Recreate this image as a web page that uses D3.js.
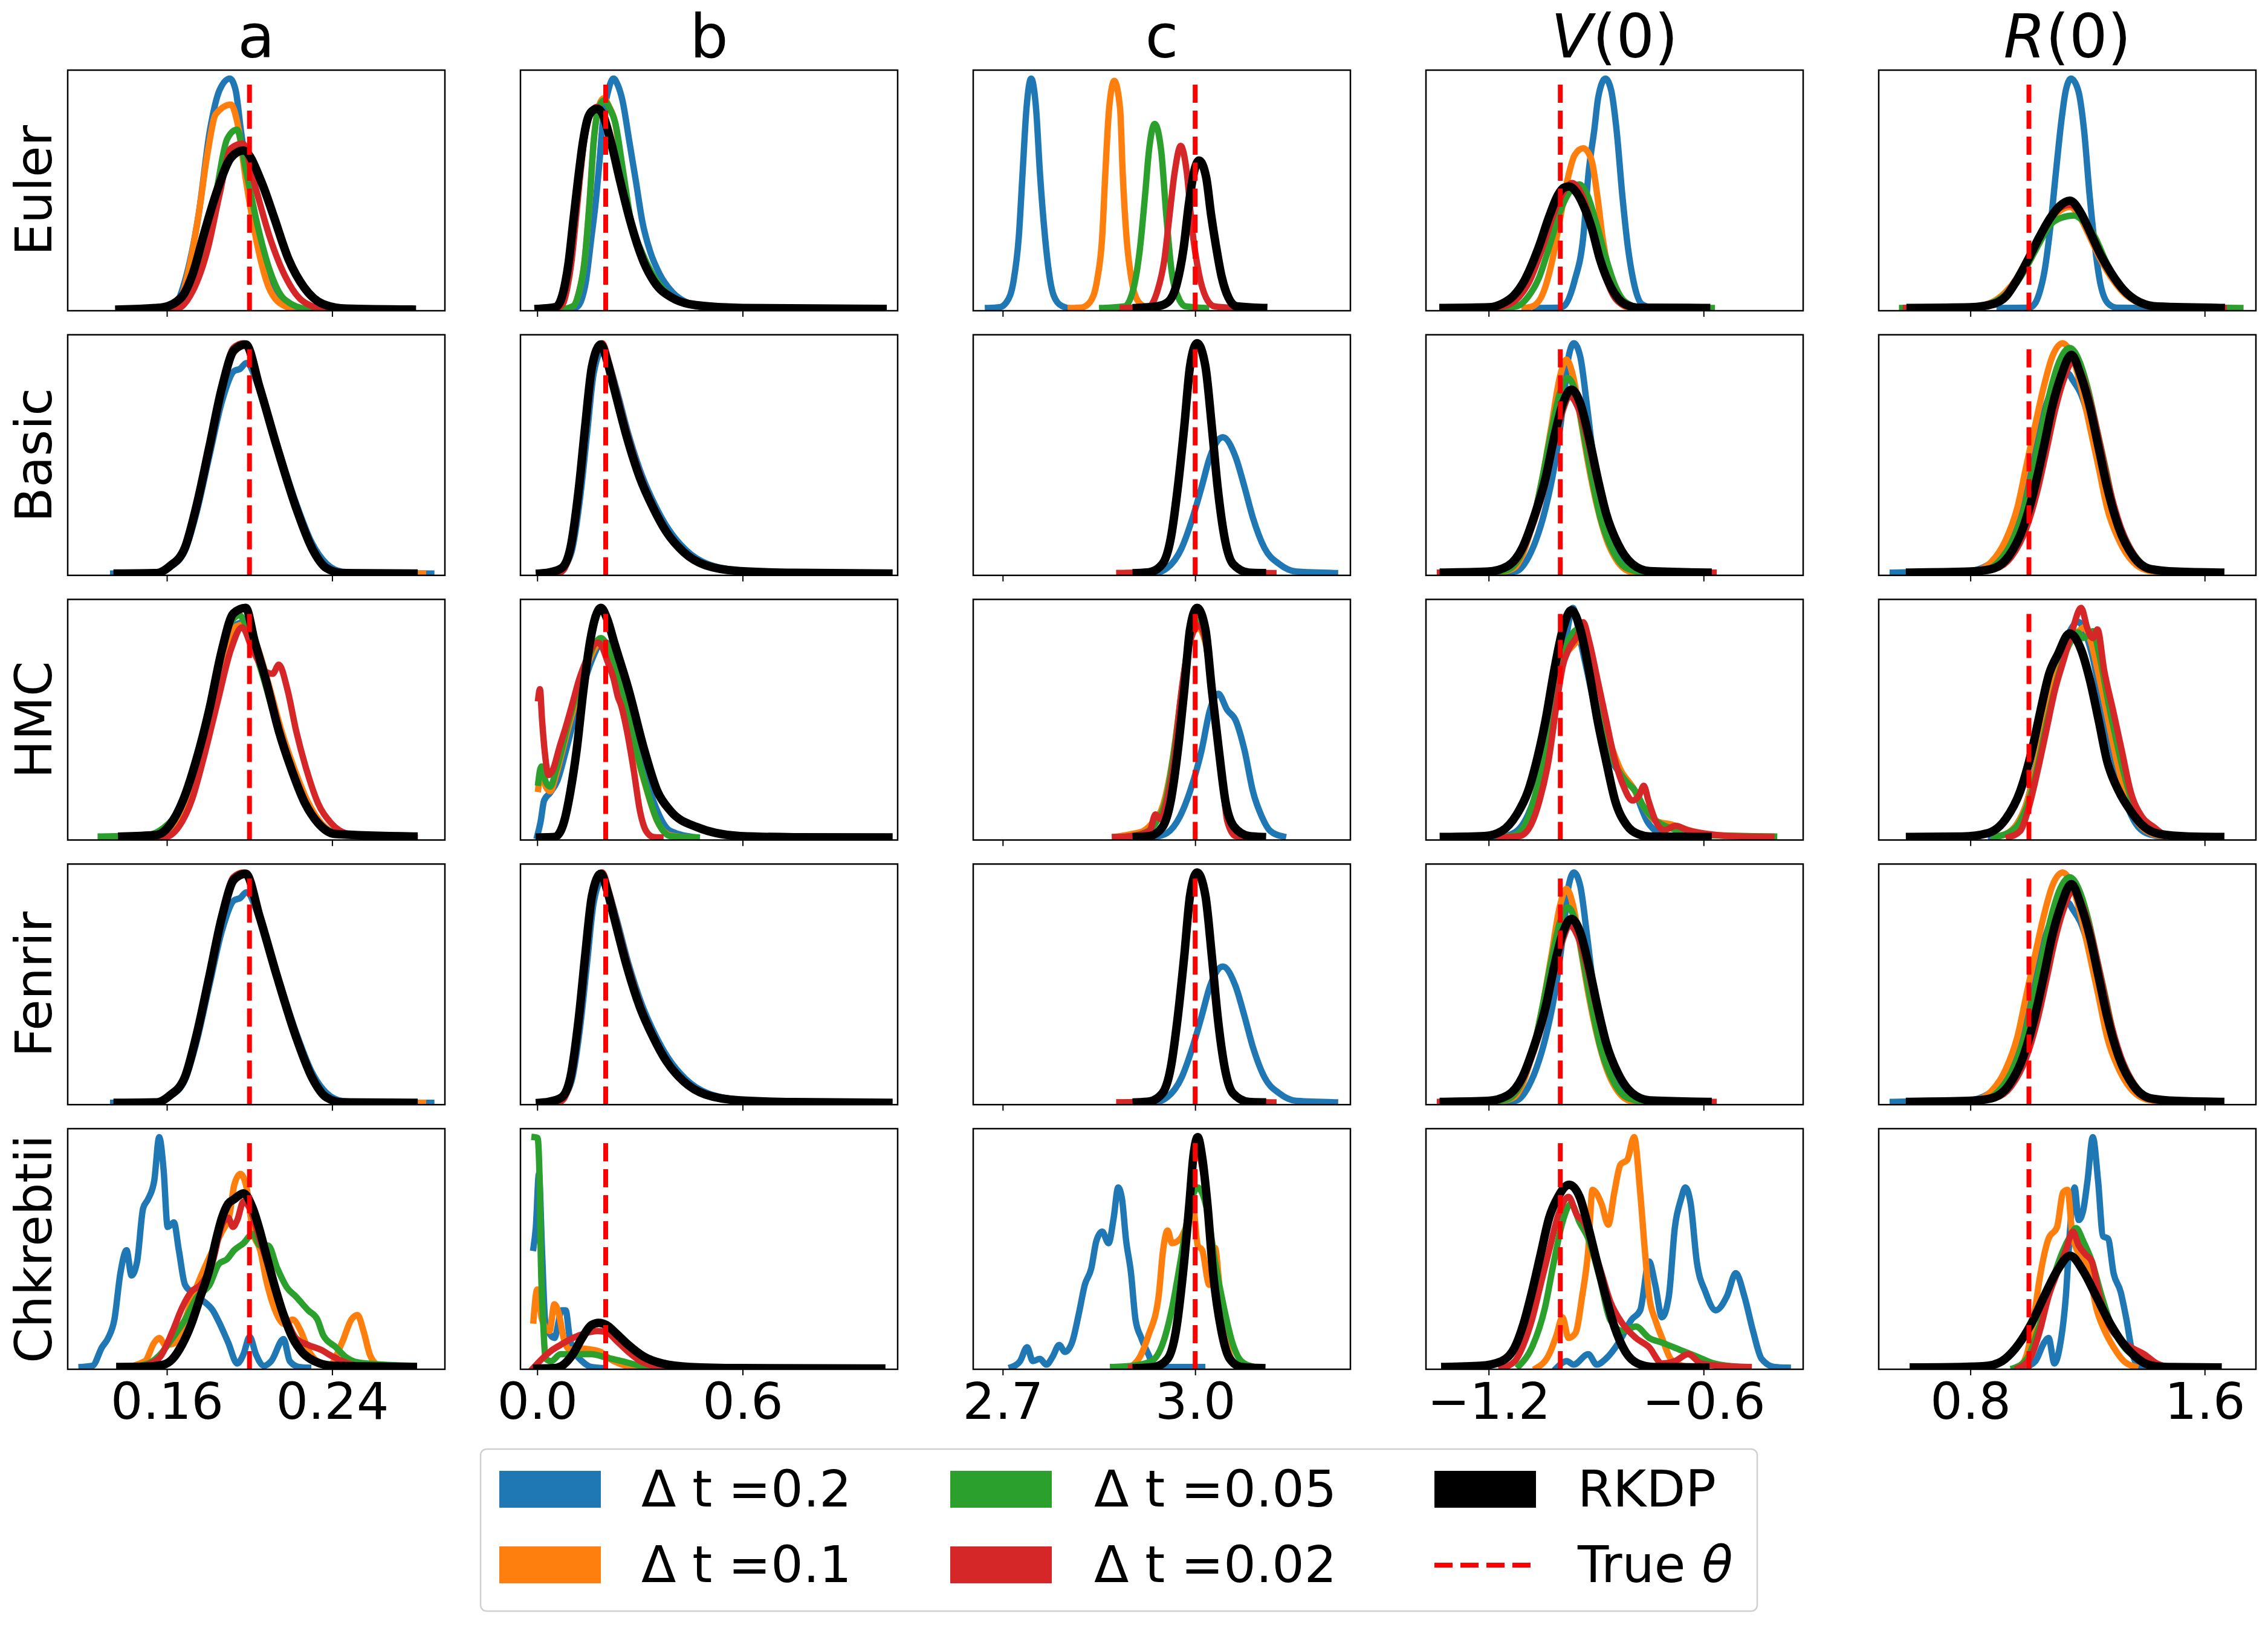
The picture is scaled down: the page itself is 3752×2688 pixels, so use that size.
<!DOCTYPE html>
<html><head><meta charset="utf-8">
<script src="https://cdn.jsdelivr.net/npm/d3@7"></script>
<style>body{margin:0;background:#fff} svg{display:block} text{font-family:"DejaVu Sans",sans-serif}</style>
</head><body><svg id="chart" width="3752" height="2688"></svg>
<script>
// ---------------- data ----------------
const methods = ["Euler", "Basic", "HMC", "Fenrir", "Chkrebtii"];
const seriesNames = ["Δ t =0.2", "Δ t =0.1", "Δ t =0.05", "Δ t =0.02", "RKDP"];
const trueTheta = [0.2, 0.2, 3.0, -1.0, 1.0];
const xDomains = [[0.112, 0.2946], [-0.049, 1.053], [2.654, 3.242], [-1.375, -0.322], [0.487, 1.775]];
const xTicks = [[0.16, 0.24], [0.0, 0.6], [2.7, 3.0], [-1.2, -0.6], [0.8, 1.6]];
const xTickLabels = [["0.16", "0.24"], ["0.0", "0.6"], ["2.7", "3.0"], ["\u22121.2", "\u22120.6"], ["0.8", "1.6"]];

// each panel: [Δt=0.2, Δt=0.1, Δt=0.05, Δt=0.02, RKDP]; points [x, relative density]
const euler_a = [
 [[0.140,0.5],[0.162,0.6],[0.1688,13],[0.1753,41],[0.1809,78],[0.1855,95],[0.1905,100],[0.1933,95],[0.1958,78],[0.2004,50],[0.206,22],[0.2134,5],[0.2218,0.8],[0.245,0.5]],
 [[0.140,0.5],[0.165,3],[0.1706,17.7],[0.1753,41],[0.1799,69],[0.1837,84.7],[0.1911,88.8],[0.1939,82],[0.1985,55],[0.2041,27],[0.2097,9.3],[0.2172,2],[0.2246,0.6],[0.25,0.5]],
 [[0.140,0.5],[0.166,1.4],[0.1725,10],[0.1781,27],[0.1837,50],[0.1892,74],[0.1939,78],[0.1985,59.5],[0.2041,36],[0.2097,17.7],[0.2172,4.7],[0.2283,0.8],[0.26,0.5]],
 [[0.140,0.5],[0.165,1],[0.1725,8.4],[0.1799,27],[0.1855,50],[0.1911,70],[0.1967,72],[0.2023,55],[0.2097,32],[0.2172,15],[0.2265,3.7],[0.2377,0.6],[0.27,0.5]],
 [[0.137,0.5],[0.1576,1.4],[0.1669,5.6],[0.1725,15.8],[0.1781,33.5],[0.1837,50],[0.1911,66],[0.197,69],[0.206,55],[0.2116,41],[0.219,22],[0.2265,10],[0.2358,2.8],[0.247,0.9],[0.2786,0.5]]
];
const euler_b = [
 [[0.09,0.5],[0.115,1.5],[0.13,5],[0.142,12.4],[0.157,30],[0.171,47],[0.182,64.5],[0.192,82],[0.207,94.5],[0.2226,100],[0.236,97],[0.249,90.6],[0.269,73],[0.288,56],[0.307,38.5],[0.33,25.5],[0.357,16],[0.395,8],[0.449,2.9],[0.526,0.9],[1.009,0.5]],
 [[0.07,0.5],[0.105,2],[0.122,8],[0.138,21],[0.153,47],[0.165,73],[0.18,88],[0.194,91.5],[0.21,88],[0.226,82],[0.249,60],[0.272,38.5],[0.303,25.5],[0.342,14],[0.388,6.3],[0.449,2.4],[0.55,0.9],[1.009,0.5]],
 [[0.07,0.5],[0.105,2],[0.122,8],[0.138,21],[0.153,47],[0.165,73],[0.18,87.5],[0.196,90.6],[0.212,87],[0.228,81],[0.251,60],[0.274,38.5],[0.305,25.5],[0.344,14],[0.39,6.3],[0.45,2.4],[0.55,0.9],[1.009,0.5]],
 [[0.05,0.5],[0.075,3],[0.088,10],[0.1,21],[0.112,38],[0.124,56],[0.137,73],[0.149,82],[0.162,86.5],[0.175,87.8],[0.19,85.5],[0.216,73],[0.243,56],[0.273,38.5],[0.312,21],[0.343,12.4],[0.396,5.5],[0.465,2.4],[0.6,1.2],[1.009,0.8]],
 [[0.004,0.8],[0.054,1.6],[0.07,5],[0.082,12],[0.092,21],[0.105,38],[0.119,56],[0.134,73],[0.146,82],[0.16,86],[0.175,87],[0.19,85],[0.215,73],[0.242,56],[0.272,38.5],[0.311,21],[0.342,12.4],[0.395,5.5],[0.464,2.4],[0.6,1.2],[1.009,0.8]]
];
const euler_c = [
 [[2.677,1.2],[2.695,1.5],[2.706,3.7],[2.717,13],[2.725,31.6],[2.731,59.5],[2.737,87],[2.7443,100],[2.752,87],[2.758,59.5],[2.766,31.6],[2.774,13],[2.785,3.7],[2.797,1.5],[2.801,1.2]],
 [[2.806,1.2],[2.823,1.4],[2.836,3.7],[2.847,13],[2.855,31.6],[2.86,59.5],[2.8658,87],[2.8739,99],[2.883,87],[2.887,59.5],[2.893,31.6],[2.901,13],[2.912,3.7],[2.925,1.4],[2.93,1.2]],
 [[2.855,1.2],[2.89,1.9],[2.9036,9.3],[2.914,27],[2.922,50],[2.928,69],[2.937,80.5],[2.947,69],[2.955,41],[2.963,17.7],[2.974,5.6],[2.985,1.9],[3.017,1.2]],
 [[2.887,1.2],[2.928,1.9],[2.941,8.4],[2.952,22],[2.96,41],[2.968,59.5],[2.9775,71],[2.987,59.5],[2.995,36],[3.006,15.8],[3.017,5.6],[3.03,1.9],[3.06,1.2]],
 [[2.909,1.2],[2.941,1.9],[2.9575,3.7],[2.971,11.2],[2.982,27],[2.99,45.6],[2.998,59.5],[3.006,64.7],[3.017,57.7],[3.025,41],[3.033,27],[3.041,15],[3.052,5.6],[3.065,1.9],[3.106,1.2]]
];
const euler_V = [
 [[-1.069,1.2],[-1.006,1.3],[-0.991,1.9],[-0.96,13],[-0.936,31.6],[-0.921,59.5],[-0.905,78],[-0.894,92],[-0.874,100],[-0.858,95],[-0.843,78],[-0.827,50],[-0.811,27],[-0.796,13],[-0.772,2.8],[-0.741,1.3],[-0.72,1.2]],
 [[-1.1,1.2],[-1.077,1.9],[-1.046,8.4],[-1.022,22],[-0.999,41],[-0.978,57.7],[-0.96,67],[-0.936,70],[-0.913,65],[-0.897,50],[-0.882,31.6],[-0.866,17.7],[-0.843,5.6],[-0.811,1.4],[-0.79,1.2]],
 [[-1.163,1.2],[-1.12,2],[-1.09,6],[-1.06,14],[-1.03,28],[-1.0,43],[-0.975,51],[-0.947,54.4],[-0.925,50],[-0.9,38],[-0.875,24],[-0.85,12],[-0.82,4],[-0.78,1.5],[-0.577,1.2]],
 [[-1.194,1.2],[-1.15,2.3],[-1.115,6],[-1.085,13],[-1.05,27],[-1.02,41],[-0.995,50],[-0.967,55],[-0.94,50],[-0.92,41],[-0.9,28],[-0.875,15],[-0.845,5],[-0.81,1.8],[-0.76,1.3],[-0.593,1.2]],
 [[-1.326,1.2],[-1.2,1.5],[-1.163,3],[-1.13,6.5],[-1.1,13],[-1.061,27],[-1.03,41],[-1.006,50],[-0.99,53],[-0.975,53.5],[-0.955,51],[-0.936,45.6],[-0.913,36],[-0.889,22],[-0.858,10],[-0.819,2.8],[-0.78,1.3],[-0.593,1.2]]
];
const euler_R = [
 [[0.9,1.2],[1.0,1.3],[1.02,3],[1.035,7.4],[1.054,17.7],[1.073,36],[1.092,59.5],[1.111,82],[1.126,95],[1.1436,100],[1.168,95],[1.188,78],[1.207,50],[1.226,27],[1.245,11],[1.273,2.8],[1.302,1.3],[1.407,1.2]],
 [[0.6,1.2],[0.8,1.6],[0.87,3.5],[0.92,8],[0.958,14],[0.997,23],[1.035,32],[1.073,39],[1.1,42.5],[1.14,44.7],[1.18,39],[1.207,32],[1.245,22],[1.283,14],[1.321,8],[1.378,3.2],[1.44,1.6],[1.6,1.2]],
 [[0.567,1.2],[0.8,1.6],[0.87,3.2],[0.92,7],[0.958,12],[0.997,20],[1.035,29],[1.073,37],[1.11,40],[1.153,41],[1.19,38],[1.226,31.6],[1.26,22],[1.3,13],[1.34,7],[1.4,3],[1.47,1.6],[1.722,1.2]],
 [[0.58,1.2],[0.8,1.5],[0.88,3],[0.92,6],[0.958,12.5],[0.997,21.5],[1.035,31],[1.073,39.5],[1.102,44],[1.14,45.6],[1.178,41.5],[1.207,34.4],[1.245,24.5],[1.283,16],[1.321,9.5],[1.378,4],[1.44,1.9],[1.665,1.2]],
 [[0.596,1.2],[0.8,1.5],[0.88,3],[0.92,6],[0.958,13],[0.997,22],[1.035,31.6],[1.073,40],[1.102,44.7],[1.14,47.4],[1.178,41.9],[1.207,34.4],[1.245,24],[1.283,15.8],[1.321,9.3],[1.378,3.7],[1.44,1.8],[1.655,1.2]]
];

const basic_a = [
 [[0.134,0.8],[0.1552,1],[0.1615,3.5],[0.1687,10.5],[0.1741,26],[0.1805,51],[0.1867,75],[0.1925,88],[0.1955,89],[0.1985,91.5],[0.2049,80],[0.2134,56],[0.2226,31],[0.2302,14],[0.2373,5],[0.245,1.6],[0.26,0.9],[0.288,0.8]],
 [[0.136,0.8],[0.155,1],[0.1615,4],[0.1687,11.8],[0.1741,29],[0.1805,55],[0.1867,81],[0.1925,96],[0.1978,99],[0.2049,81],[0.2134,56],[0.2226,30],[0.2302,12.5],[0.2373,3.5],[0.246,1],[0.284,0.8]],
 [[0.136,0.8],[0.155,1],[0.1615,4],[0.1687,11.8],[0.1741,29],[0.1805,55],[0.1867,81],[0.1925,96.5],[0.198,99.3],[0.2049,81],[0.2134,55.5],[0.2226,29.5],[0.2302,12],[0.2373,3.2],[0.246,1],[0.28,0.8]],
 [[0.136,0.8],[0.155,1],[0.1615,4],[0.1687,11.8],[0.1741,29],[0.1805,55],[0.1867,81],[0.1922,98],[0.1972,100],[0.2049,81],[0.2134,55],[0.2226,29],[0.2302,11.8],[0.2373,3.1],[0.245,1],[0.278,0.8]],
 [[0.1362,0.8],[0.1552,1],[0.1615,4],[0.1687,11.8],[0.1741,29],[0.1805,55],[0.1867,81],[0.1925,97],[0.1982,99.5],[0.2049,81],[0.2134,55],[0.2226,29],[0.2302,11.8],[0.2373,3.1],[0.245,1],[0.2794,0.8]]
];
const basic_b = [
 [[0.04,0.8],[0.07,2.5],[0.1,10],[0.125,33],[0.145,60],[0.165,87],[0.19,97],[0.21,91],[0.23,81],[0.268,60],[0.306,43],[0.345,30],[0.383,20],[0.434,11],[0.497,5],[0.6,2],[0.75,1.1],[1.026,0.8]],
 [[0.03,0.8],[0.06,2],[0.08,5],[0.1,13],[0.123,38],[0.141,64],[0.161,90],[0.187,98.5],[0.206,91.5],[0.225,81],[0.263,59.5],[0.301,42],[0.34,29],[0.378,18.8],[0.429,10],[0.492,4.4],[0.594,1.8],[0.75,1.1],[1.026,0.8]],
 [[0.03,0.8],[0.06,2],[0.08,5],[0.1,13],[0.123,38],[0.141,64],[0.161,90],[0.187,99],[0.206,91.5],[0.225,81],[0.263,59.5],[0.301,42],[0.34,29],[0.378,18.8],[0.429,10],[0.492,4.4],[0.594,1.8],[0.75,1.1],[1.026,0.8]],
 [[0.065,0.8],[0.08,3],[0.1,11.8],[0.125,38],[0.143,64],[0.163,90],[0.19,100],[0.209,92],[0.228,81],[0.266,59.5],[0.304,42],[0.342,29],[0.38,18.8],[0.43,10],[0.493,4.4],[0.595,1.8],[0.75,1.1],[1.0,0.8]],
 [[0.008,0.8],[0.033,1.2],[0.071,3.1],[0.097,11.8],[0.122,38],[0.14,64],[0.16,90],[0.186,99.5],[0.205,92],[0.224,81],[0.262,59.5],[0.3,42],[0.339,29],[0.377,18.8],[0.428,10],[0.491,4.4],[0.593,1.8],[0.75,1.1],[1.026,0.8]]
];
const basic_c = [
 [[2.882,1],[2.936,1],[2.956,3.1],[2.979,11.8],[2.996,24.8],[3.01,38],[3.023,51],[3.043,59.5],[3.063,51],[3.077,38],[3.09,24.8],[3.108,11.8],[3.131,4.9],[3.158,1.6],[3.218,1]],
 [[2.882,1],[2.929,1.4],[2.949,5],[2.962,16.5],[2.973,38.5],[2.983,64.5],[2.992,90],[3.003,99],[3.016,89.5],[3.026,63.5],[3.035,37.5],[3.046,15.5],[3.059,4.8],[3.084,1.2],[3.104,1]],
 [[2.895,1],[2.929,1.4],[2.949,4.9],[2.962,16],[2.973,38],[2.983,64],[2.992,90],[3.003,99.5],[3.016,90],[3.026,64],[3.035,38],[3.046,16],[3.059,4.9],[3.084,1.2],[3.104,1]],
 [[2.882,1],[2.929,1.4],[2.949,5],[2.962,16.5],[2.973,39],[2.983,65],[2.992,90.5],[3.003,99.5],[3.016,90],[3.026,64],[3.035,38],[3.046,16],[3.059,4.9],[3.084,1.2],[3.122,1]],
 [[2.909,1],[2.929,1.4],[2.949,4.9],[2.962,16],[2.973,38],[2.983,64],[2.992,90],[3.003,100],[3.016,90],[3.026,64],[3.035,38],[3.046,16],[3.059,4.9],[3.084,1.2],[3.104,1]]
];
const basic_V = [
 [[-1.155,1.2],[-1.122,1.8],[-1.09,7.5],[-1.066,16],[-1.041,29],[-1.017,46.5],[-0.993,72.5],[-0.977,94],[-0.962,100],[-0.944,94],[-0.925,72.5],[-0.904,46.5],[-0.88,29],[-0.855,16],[-0.831,7.5],[-0.799,2.3],[-0.767,1.2]],
 [[-1.171,1.2],[-1.13,3.1],[-1.098,11.8],[-1.074,24.8],[-1.05,42],[-1.025,64],[-1.001,85.6],[-0.983,93],[-0.964,85.6],[-0.944,68],[-0.92,46.5],[-0.896,29],[-0.872,16],[-0.839,5.7],[-0.799,1.4],[-0.78,1.2]],
 [[-1.187,1.2],[-1.147,2.3],[-1.106,10],[-1.074,24.8],[-1.05,42],[-1.025,62],[-1.001,78.6],[-0.98,85],[-0.957,78.6],[-0.936,62],[-0.912,42],[-0.888,24.8],[-0.855,11],[-0.815,3.1],[-0.767,1.2]],
 [[-1.336,1.2],[-1.2,1.5],[-1.147,3.5],[-1.106,10.5],[-1.074,23],[-1.041,40],[-1.017,57],[-0.993,71],[-0.974,77.3],[-0.95,72],[-0.925,59],[-0.9,42],[-0.875,27],[-0.84,14],[-0.8,5],[-0.75,2],[-0.572,1.2]],
 [[-1.325,1.2],[-1.203,1.6],[-1.147,4],[-1.106,11.8],[-1.074,24.8],[-1.041,42],[-1.017,59.5],[-0.993,74],[-0.969,80],[-0.944,74],[-0.92,59.5],[-0.896,42],[-0.872,26.6],[-0.839,13.5],[-0.799,4.9],[-0.75,1.8],[-0.589,1.2]]
];
const basic_R = [
 [[0.535,1.2],[0.79,1.8],[0.86,4.5],[0.92,13],[0.965,27],[1.0,44],[1.03,60],[1.06,74],[1.09,83],[1.12,86],[1.133,87],[1.15,84],[1.178,78],[1.208,66],[1.238,50],[1.267,33],[1.307,17],[1.356,6.5],[1.416,2],[1.505,1.2]],
 [[0.733,1.2],[0.812,1.8],[0.871,5.7],[0.921,15.3],[0.96,29],[0.99,46.5],[1.02,64],[1.05,81],[1.079,94],[1.115,100],[1.149,94],[1.178,81],[1.208,64],[1.238,46.5],[1.267,29],[1.307,15.3],[1.356,5.7],[1.416,1.8],[1.485,1.2]],
 [[0.75,1.2],[0.836,1.8],[0.895,5.7],[0.945,15.3],[0.984,29],[1.014,46],[1.044,63],[1.074,80],[1.103,92],[1.139,98],[1.173,92],[1.202,80],[1.232,63],[1.262,46],[1.291,29],[1.331,15.3],[1.38,5.7],[1.44,1.8],[1.51,1.2]],
 [[0.6,1.2],[0.8,1.6],[0.88,2.7],[0.94,8],[0.99,20],[1.03,37],[1.06,54],[1.089,71],[1.118,84],[1.149,92],[1.185,85],[1.215,72],[1.245,55],[1.274,38],[1.314,20.5],[1.362,8.3],[1.42,2.7],[1.5,1.6],[1.64,1.2]],
 [[0.594,1.2],[0.792,1.6],[0.871,2.7],[0.931,8.3],[0.98,20.5],[1.02,38],[1.05,55],[1.079,72.5],[1.109,85.6],[1.145,95],[1.178,85.6],[1.208,72.5],[1.238,55],[1.267,38],[1.307,20.5],[1.356,8.3],[1.416,2.7],[1.505,1.6],[1.653,1.2]]
];

const hmc_a = [
 [[0.14,1.5],[0.157,2.5],[0.1635,7],[0.17,18],[0.1762,36],[0.1825,59],[0.1885,82],[0.194,93],[0.1985,94],[0.203,85],[0.2085,68],[0.215,46],[0.221,30],[0.2275,16],[0.234,7],[0.243,2.4],[0.26,1.5]],
 [[0.14,1.5],[0.157,2.3],[0.1635,6.5],[0.17,17],[0.1762,35],[0.1825,58],[0.1885,81],[0.1935,92],[0.198,93],[0.2035,84],[0.209,68],[0.2155,47],[0.222,30],[0.2285,16],[0.235,7],[0.244,2.5],[0.265,1.5]],
 [[0.128,1.5],[0.15,2],[0.158,5],[0.165,12],[0.1715,27],[0.178,48],[0.1845,73],[0.19,92],[0.1952,96.8],[0.2,88],[0.206,72],[0.2125,52],[0.219,34],[0.2255,19],[0.232,9],[0.24,3.5],[0.255,1.6],[0.275,1.5]],
 [[0.15,1],[0.1594,1.3],[0.1657,5.6],[0.172,17],[0.1783,37],[0.1847,60],[0.191,82],[0.1964,91.6],[0.2015,82],[0.2079,72.5],[0.2112,71.6],[0.2142,75.5],[0.2184,64.7],[0.2226,47],[0.2277,30],[0.2331,16],[0.2394,7.4],[0.2478,2.6],[0.2604,1.3],[0.28,1]],
 [[0.1384,1.5],[0.1552,2.2],[0.1615,6.5],[0.1678,17],[0.1741,34],[0.1805,56],[0.1867,82],[0.1922,97.6],[0.1982,100],[0.2024,86],[0.2079,69],[0.2142,47],[0.2205,30],[0.2268,16],[0.2331,7.4],[0.2415,2.6],[0.2794,1.5]]
];
const hmc_b = [
 [[0.0,1.7],[0.01,8],[0.02,17],[0.038,20.4],[0.059,25.6],[0.084,38.6],[0.122,60],[0.16,77.7],[0.191,85.5],[0.224,82],[0.262,60],[0.3,37],[0.339,17],[0.389,3.9],[0.466,1.1]],
 [[0.003,22],[0.008,27],[0.013,29],[0.025,23],[0.038,21],[0.055,28],[0.071,37],[0.09,48],[0.109,58],[0.128,68],[0.148,76],[0.17,83],[0.186,85],[0.2,83],[0.211,80],[0.242,67],[0.275,46],[0.313,25],[0.351,8],[0.389,2],[0.45,1.1]],
 [[0.003,24.7],[0.008,30],[0.013,31.7],[0.025,25],[0.038,23],[0.055,30],[0.071,38.6],[0.09,50],[0.109,60],[0.128,70],[0.148,77.7],[0.17,85],[0.186,87],[0.2,85],[0.211,82],[0.242,69],[0.275,47],[0.313,25.6],[0.351,8.2],[0.389,1.7],[0.466,1.1]],
 [[0.003,61],[0.008,65],[0.014,52],[0.022,38],[0.033,28],[0.045,30],[0.065,40],[0.084,49],[0.105,60],[0.122,69],[0.145,78],[0.165,84],[0.178,85],[0.19,83],[0.205,77],[0.224,69],[0.235,62],[0.245,58],[0.262,47],[0.282,30],[0.3,12.6],[0.318,3.9],[0.339,1.3],[0.36,1.1]],
 [[0.008,1.1],[0.05,1.3],[0.065,3],[0.079,8.2],[0.097,21],[0.115,38.6],[0.135,64.7],[0.155,86],[0.17,96],[0.186,100],[0.205,95],[0.225,85],[0.267,64.7],[0.313,38.6],[0.351,21],[0.389,12.6],[0.466,5.6],[0.593,1.7],[0.75,1.2],[1.026,1.1]]
];
const hmc_c = [
 [[2.936,1.3],[2.956,3],[2.976,10],[2.992,21],[3.01,38.6],[3.023,56],[3.036,63],[3.05,56],[3.063,51.6],[3.077,38.6],[3.09,21],[3.104,10],[3.117,3.9],[3.137,1.5]],
 [[2.875,1.3],[2.9,2.5],[2.92,4],[2.935,8],[2.95,15],[2.965,35],[2.978,62],[2.99,85],[3.003,92],[3.016,85],[3.028,60],[3.04,32],[3.05,10],[3.063,2],[3.08,1.3]],
 [[2.89,1.3],[2.92,3],[2.94,8],[2.955,18],[2.968,40],[2.98,66],[2.992,88],[3.003,95],[3.016,86],[3.028,60],[3.04,32],[3.05,10],[3.063,2],[3.085,1.3]],
 [[2.875,1.3],[2.895,1.5],[2.929,3.9],[2.938,11],[2.946,9],[2.956,17],[2.969,38.6],[2.976,57.8],[2.989,82],[3.006,92.4],[3.019,82],[3.03,56],[3.041,30],[3.05,8.2],[3.063,1.7],[3.08,1.3]],
 [[2.909,1.3],[2.929,1.7],[2.949,5.6],[2.962,17],[2.973,38.6],[2.983,64.7],[2.992,90.7],[3.003,100],[3.016,90.7],[3.026,64.7],[3.037,38.6],[3.047,17],[3.061,5.6],[3.084,1.7],[3.104,1.3]]
];
const hmc_V = [
 [[-1.2,1.3],[-1.171,1.3],[-1.13,3],[-1.09,10.9],[-1.058,25.6],[-1.033,43],[-1.009,64.7],[-0.985,86],[-0.965,100],[-0.944,86],[-0.92,69],[-0.896,51.6],[-0.872,38.6],[-0.847,31.7],[-0.815,25.6],[-0.791,21],[-0.775,14.3],[-0.758,8.2],[-0.734,3.9],[-0.702,1.7],[-0.68,1.3]],
 [[-1.155,1.3],[-1.122,2.2],[-1.09,9.1],[-1.066,21],[-1.041,38.6],[-1.017,60],[-0.993,77.7],[-0.969,83],[-0.944,86],[-0.92,73],[-0.896,56],[-0.864,43],[-0.831,30],[-0.799,23],[-0.767,14.3],[-0.734,8.2],[-0.686,6.5],[-0.653,4.8],[-0.589,2.2],[-0.411,1.5]],
 [[-1.155,1.3],[-1.122,2.5],[-1.09,9.5],[-1.066,22],[-1.041,40],[-1.017,62],[-0.993,80],[-0.97,88],[-0.952,90.7],[-0.93,82],[-0.905,62],[-0.875,45],[-0.845,32],[-0.815,25],[-0.79,21],[-0.767,14.3],[-0.734,8.5],[-0.69,5],[-0.65,3.5],[-0.58,2],[-0.403,1.5]],
 [[-1.171,1.1],[-1.114,1.7],[-1.082,6.5],[-1.058,17],[-1.033,34],[-1.009,60],[-0.993,75],[-0.977,82],[-0.952,88],[-0.936,93.8],[-0.92,86],[-0.896,69],[-0.872,51.6],[-0.847,34],[-0.823,23],[-0.799,17],[-0.779,19.5],[-0.767,23.4],[-0.754,17],[-0.734,8.2],[-0.71,4.3],[-0.678,6.1],[-0.645,4.3],[-0.589,2.6],[-0.524,1.7],[-0.411,1.3]],
 [[-1.325,1.3],[-1.211,1.7],[-1.163,3.9],[-1.122,10.9],[-1.09,21],[-1.066,34],[-1.041,51.6],[-1.017,73],[-0.993,90.7],[-0.969,99],[-0.944,90.7],[-0.92,73],[-0.896,51.6],[-0.872,34],[-0.847,17],[-0.815,6.5],[-0.783,2.6],[-0.75,1.5],[-0.589,1.3]]
];
const hmc_R = [
 [[0.87,1.3],[0.92,2.5],[0.96,7],[0.99,15],[1.02,30],[1.05,48],[1.08,66],[1.11,80],[1.14,90],[1.168,94],[1.19,90],[1.215,80],[1.245,62],[1.275,44],[1.305,28],[1.335,15],[1.365,7],[1.4,3],[1.45,1.5]],
 [[0.88,1.3],[0.925,2.8],[0.96,7],[0.99,15],[1.02,29],[1.05,47],[1.08,65],[1.11,80],[1.14,88],[1.17,90],[1.188,91.6],[1.21,86],[1.24,70],[1.27,52],[1.3,34],[1.33,20],[1.36,10],[1.4,4],[1.46,1.5]],
 [[0.88,1.3],[0.93,3],[0.97,8],[1.0,17],[1.03,32],[1.06,50],[1.09,66],[1.12,79],[1.15,87],[1.168,89.4],[1.185,87],[1.2,88],[1.218,90],[1.24,80],[1.27,60],[1.3,42],[1.33,26],[1.36,14],[1.4,6],[1.45,2.2],[1.55,1.3]],
 [[0.931,1.3],[0.97,3.9],[1.0,14.3],[1.03,30],[1.059,47],[1.089,64.7],[1.119,77.7],[1.149,90.7],[1.178,100],[1.2,91],[1.218,87],[1.234,90.7],[1.257,73],[1.287,56],[1.317,38.6],[1.347,21],[1.386,10],[1.426,5.6],[1.465,2.2],[1.525,1.1]],
 [[0.594,1.3],[0.772,1.5],[0.861,3],[0.921,9.1],[0.97,21],[1.01,38.6],[1.04,56],[1.069,71.6],[1.099,80],[1.139,89],[1.178,82],[1.208,69],[1.238,51.6],[1.267,34],[1.307,21],[1.347,12.6],[1.386,6.5],[1.446,2.6],[1.545,1.5],[1.653,1.3]]
];

// Fenrir posteriors are visually identical to Basic in the reference
const fenrir_a = basic_a, fenrir_b = basic_b, fenrir_c = basic_c, fenrir_V = basic_V, fenrir_R = basic_R;

const chk_a = [
 [[0.1187,1],[0.124,1.5],[0.1286,9.5],[0.1316,13.5],[0.1346,21.4],[0.1375,41.4],[0.1405,51.3],[0.1429,40.4],[0.1456,46.4],[0.1485,69.3],[0.1509,73.3],[0.1539,81.3],[0.1563,100],[0.1584,86.2],[0.1604,61.3],[0.1634,63.3],[0.1658,51.3],[0.1688,36.4],[0.1733,32.4],[0.1777,29.4],[0.1822,25.4],[0.1852,20.4],[0.1897,11.5],[0.1941,2.5],[0.1971,6.5],[0.2001,14],[0.2031,6.5],[0.207,1.5],[0.2105,3.5],[0.2165,13],[0.2195,3.5],[0.2239,1],[0.2284,0.7]],
 [[0.1375,0.5],[0.1494,3.5],[0.1539,11.5],[0.1563,13.5],[0.1593,10.5],[0.1643,11.5],[0.1688,21.4],[0.1748,36.4],[0.1822,51.3],[0.1867,59.3],[0.1903,66.3],[0.1926,79.3],[0.1956,84.2],[0.1986,78.3],[0.2016,59.3],[0.2052,51.3],[0.2081,38.4],[0.212,26.4],[0.2171,19.4],[0.2209,21.4],[0.2248,16.5],[0.2284,8.5],[0.2329,3.5],[0.2388,2],[0.2448,11.5],[0.2493,21.4],[0.2523,23.4],[0.2552,16.5],[0.2582,6.5],[0.2618,2],[0.2656,1]],
 [[0.139,0.5],[0.1509,2.5],[0.1569,6.5],[0.1628,13.5],[0.1688,21.4],[0.1748,31.4],[0.1807,36.4],[0.1852,45.4],[0.1891,47.4],[0.1926,51.3],[0.1971,54.3],[0.2016,58.3],[0.2052,53.3],[0.209,53.3],[0.2135,43.4],[0.218,35.4],[0.2224,31.4],[0.2284,25.4],[0.2329,21.4],[0.2358,14.5],[0.2418,9.5],[0.2463,5.5],[0.2523,3],[0.2642,2],[0.2791,1.5]],
 [[0.145,0.5],[0.1509,2],[0.1569,5.5],[0.1628,16.5],[0.1673,26.4],[0.1718,33.4],[0.1763,36.4],[0.1822,46.4],[0.1867,62.3],[0.1897,65.3],[0.192,61.3],[0.1941,64.3],[0.1971,72.3],[0.2001,69.3],[0.2045,57.3],[0.209,44.4],[0.2135,31.4],[0.218,21.4],[0.2224,13.5],[0.2284,10.5],[0.2343,8.5],[0.2403,5.5],[0.2463,3],[0.2523,1.5],[0.2612,1]],
 [[0.1375,1],[0.1509,1.2],[0.1584,2],[0.1628,4.5],[0.1673,10.5],[0.1718,19.4],[0.1763,31.4],[0.1807,43.4],[0.1837,55.3],[0.1867,65.3],[0.1897,71.3],[0.1926,73.3],[0.1971,75.8],[0.2016,69.3],[0.2045,61.3],[0.2075,51.3],[0.212,36.4],[0.2165,23.4],[0.2209,13.5],[0.2254,7.5],[0.2314,3.5],[0.2403,1.5],[0.2791,1]]
];
const chk_b = [
 [[-0.011,52.3],[-0.004,61.3],[0.005,84.2],[0.014,51.3],[0.023,21.4],[0.032,16.5],[0.05,13.5],[0.072,25.4],[0.083,25.4],[0.095,13.5],[0.113,6.5],[0.131,3.5],[0.158,1],[0.194,0.5]],
 [[-0.011,21],[0.0,34.4],[0.014,21.4],[0.036,16.5],[0.05,28],[0.064,23.4],[0.077,13.5],[0.095,8.5],[0.122,9],[0.158,8.5],[0.185,7.5],[0.212,4.5],[0.248,2],[0.302,0.5]],
 [[-0.008,100],[0.001,99.7],[0.007,81.3],[0.01,51.3],[0.017,21.4],[0.025,4.5],[0.041,3.5],[0.068,6.5],[0.104,6.5],[0.158,6.5],[0.203,5],[0.248,3.5],[0.302,1.5],[0.356,0.5]],
 [[-0.013,0.3],[0.014,4.5],[0.041,8],[0.068,10.5],[0.104,13.5],[0.14,15.5],[0.176,16.5],[0.203,16],[0.23,12.5],[0.266,7.5],[0.302,3.5],[0.338,1.5],[0.383,0.5]],
 [[0.0,0.3],[0.05,0.5],[0.077,2],[0.104,6.5],[0.131,13.5],[0.158,19],[0.18,20],[0.203,19],[0.23,15.5],[0.266,10.5],[0.311,5.5],[0.365,2.5],[0.446,1],[0.59,0.5],[1.005,0.3]]
];
const chk_c = [
 [[2.714,1],[2.727,3.5],[2.738,9.5],[2.747,3.5],[2.758,4.5],[2.768,2],[2.778,5.5],[2.788,10.5],[2.797,7.5],[2.808,11.5],[2.819,24.4],[2.828,36.4],[2.838,43.4],[2.846,55.3],[2.855,59.3],[2.865,54.3],[2.873,65.3],[2.88,78.3],[2.886,73.3],[2.892,56.3],[2.9,41.4],[2.907,21.4],[2.916,13.5],[2.927,6.5],[2.936,1.5],[2.957,1],[3.011,1]],
 [[2.896,0.5],[2.916,6.5],[2.927,14.5],[2.943,31.4],[2.95,51.3],[2.957,59.8],[2.964,54.3],[2.977,56.3],[2.986,61.3],[2.997,69.3],[3.004,53.3],[3.011,51.3],[3.022,36.4],[3.031,52.3],[3.038,35.4],[3.049,11.5],[3.062,2.5],[3.078,1]],
 [[2.872,1],[2.903,1.5],[2.932,3.5],[2.95,11.5],[2.964,26.4],[2.977,46.4],[2.991,69.3],[3.004,78.3],[3.018,69.3],[3.031,46.4],[3.045,26.4],[3.058,11.5],[3.072,3.5],[3.092,1]],
 [[2.9,0.8],[2.936,1.2],[2.957,4.5],[2.97,16.5],[2.981,41.4],[2.991,71.3],[2.997,90],[3.001,98.2],[3.009,90],[3.019,71.3],[3.028,41.4],[3.041,16.5],[3.054,4.5],[3.072,1],[3.1,0.8]],
 [[2.909,0.5],[2.936,1],[2.957,4.5],[2.97,16.5],[2.981,41.4],[2.991,71.3],[2.997,91.2],[3.004,100],[3.011,91.2],[3.019,71.3],[3.028,41.4],[3.041,16.5],[3.054,4.5],[3.072,1],[3.103,0.5]]
];
const chk_V = [
 [[-1.011,0.5],[-0.982,3.5],[-0.963,2],[-0.922,6.5],[-0.898,2],[-0.873,4.5],[-0.837,11.5],[-0.801,21.4],[-0.777,25.4],[-0.752,46.4],[-0.735,36.4],[-0.716,22.4],[-0.697,31.4],[-0.68,61.3],[-0.663,73.3],[-0.651,78.3],[-0.636,71.3],[-0.619,46.4],[-0.595,33.4],[-0.566,25.4],[-0.535,31.4],[-0.51,41.4],[-0.486,31.4],[-0.462,16.5],[-0.438,4.5],[-0.402,1],[-0.365,0.7]],
 [[-1.067,0.5],[-1.031,6.5],[-1.011,14.5],[-0.994,22.4],[-0.977,13.5],[-0.958,15.5],[-0.939,31.4],[-0.922,51.3],[-0.91,77.3],[-0.885,71.3],[-0.866,62.3],[-0.849,76.3],[-0.832,88.2],[-0.813,90.2],[-0.794,100],[-0.777,76.3],[-0.764,51.3],[-0.752,31.4],[-0.735,21.4],[-0.716,13.5],[-0.692,4.5],[-0.668,2],[-0.643,1]],
 [[-1.115,1.5],[-1.079,9.5],[-1.043,26.4],[-1.019,45.4],[-0.994,63.3],[-0.97,71.3],[-0.946,63.3],[-0.922,56.3],[-0.89,39.4],[-0.861,21.4],[-0.825,16.5],[-0.789,18.4],[-0.752,13.5],[-0.716,11.5],[-0.668,8.5],[-0.619,5.5],[-0.571,2.5],[-0.498,1]],
 [[-1.164,0.5],[-1.127,3.5],[-1.103,10.5],[-1.079,21.4],[-1.055,36.4],[-1.031,51.3],[-1.006,66.3],[-0.977,74.3],[-0.953,66.3],[-0.934,63.3],[-0.91,53.3],[-0.885,41.4],[-0.861,29.4],[-0.825,19.4],[-0.789,13.5],[-0.752,9.5],[-0.716,2.5],[-0.68,3.5],[-0.643,6.5],[-0.607,2.5],[-0.559,1.5],[-0.474,1]],
 [[-1.321,1],[-1.224,1.5],[-1.164,3.5],[-1.127,9.5],[-1.103,19.4],[-1.079,33.4],[-1.055,49.4],[-1.031,65.3],[-1.006,74.3],[-0.975,79.5],[-0.946,74.3],[-0.922,61.3],[-0.898,46.4],[-0.873,31.4],[-0.849,18.4],[-0.818,7.5],[-0.784,2.5],[-0.74,1],[-0.595,0.8]]
];
const chk_R = [
 [[0.978,0.5],[1.022,3.5],[1.052,11.5],[1.067,13.5],[1.087,2.5],[1.105,9.5],[1.126,31.4],[1.141,61.3],[1.156,78.3],[1.17,64.3],[1.185,68.3],[1.2,81.3],[1.218,100],[1.236,81.3],[1.253,57.3],[1.27,56.3],[1.289,41.4],[1.313,33.4],[1.333,21.4],[1.354,6.5],[1.378,1],[1.407,0.5]],
 [[0.963,0.5],[0.993,6.5],[1.016,21.4],[1.037,39.4],[1.067,56.3],[1.096,61.3],[1.117,76.3],[1.132,77.3],[1.147,59.3],[1.164,51.3],[1.185,48.4],[1.206,41.4],[1.23,26.4],[1.259,16.5],[1.289,9.5],[1.324,3.5],[1.363,1]],
 [[0.948,0.5],[0.993,4.5],[1.037,19.4],[1.076,36.4],[1.111,49.4],[1.141,57.3],[1.161,60.8],[1.185,55.3],[1.215,46.4],[1.244,33.4],[1.274,21.4],[1.319,10.5],[1.378,4.5],[1.437,2],[1.496,1]],
 [[0.963,0.5],[1.007,5.5],[1.037,16.5],[1.067,31.4],[1.096,41.4],[1.126,51.3],[1.15,59.3],[1.17,53.3],[1.194,49.4],[1.215,46.4],[1.236,34.4],[1.265,21.4],[1.304,13.5],[1.348,9.5],[1.393,6.5],[1.437,2.5],[1.481,1]],
 [[0.607,0.8],[0.77,1],[0.859,1.5],[0.919,4.5],[0.963,10.5],[1.007,19.4],[1.052,31.4],[1.096,42.4],[1.141,48.9],[1.185,42.4],[1.23,31.4],[1.274,20.4],[1.319,11.5],[1.363,5.5],[1.407,2],[1.467,1],[1.644,0.8]]
];

const panelGrid = [
  [euler_a, euler_b, euler_c, euler_V, euler_R],
  [basic_a, basic_b, basic_c, basic_V, basic_R],
  [hmc_a, hmc_b, hmc_c, hmc_V, hmc_R],
  [fenrir_a, fenrir_b, fenrir_c, fenrir_V, fenrir_R],
  [chk_a, chk_b, chk_c, chk_V, chk_R]
];

// ---------------- drawing ----------------
const W = 3752, H = 2688;
const colors = ["#1f77b4", "#ff7f0e", "#2ca02c", "#d62728", "#000000"];
const lineW = [10.5, 10.5, 10.5, 10.5, 14];
const colX0 = 112, colStep = 749, pw = 624;
const rowY0 = 116, rowStep = 437.75, ph = 398;

const svg = d3.select("#chart");
svg.append("rect").attr("width", W).attr("height", H).attr("fill", "#fff");
const defs = svg.append("defs");

// column titles
const titleG = svg.append("g").attr("font-size", 100).attr("text-anchor", "middle");
const titleParts = [[["a", false]], [["b", false]], [["c", false]], [["V", true], ["(0)", false]], [["R", true], ["(0)", false]]];
titleParts.forEach((parts, c) => {
  const t = titleG.append("text").attr("x", colX0 + c * colStep + pw / 2).attr("y", 95);
  parts.forEach(([s, it]) => t.append("tspan").attr("font-style", it ? "italic" : "normal").text(s));
});

panelGrid.forEach((rowPanels, r) => {
  const y0 = rowY0 + r * rowStep;
  svg.append("text")
    .attr("transform", `translate(85,${y0 + ph / 2}) rotate(-90)`)
    .attr("text-anchor", "middle").attr("font-size", 84)
    .text(methods[r]);

  rowPanels.forEach((series, c) => {
    const x0 = colX0 + c * colStep;
    const g = svg.append("g").attr("transform", `translate(${x0},${y0})`);
    const x = d3.scaleLinear().domain(xDomains[c]).range([0, pw]);
    const ymax = d3.max(series, s => d3.max(s, d => d[1]));
    const y = d3.scaleLinear().domain([0, ymax * 1.0365]).range([ph, 0]);

    const cid = `clip-${r}-${c}`;
    defs.append("clipPath").attr("id", cid).append("rect").attr("width", pw).attr("height", ph);
    const plot = g.append("g").attr("clip-path", `url(#${cid})`);

    const line = d3.line().x(d => x(d[0])).y(d => y(d[1])).curve(d3.curveMonotoneX);
    series.forEach((s, i) => {
      plot.append("path").datum(s).attr("d", line)
        .attr("fill", "none").attr("stroke", colors[i]).attr("stroke-width", lineW[i])
        .attr("stroke-linejoin", "round").attr("stroke-linecap", "square");
    });
    plot.append("line")
      .attr("x1", x(trueTheta[c])).attr("x2", x(trueTheta[c]))
      .attr("y1", y(0)).attr("y2", y(ymax))
      .attr("stroke", "#ff0000").attr("stroke-width", 8).attr("stroke-dasharray", "30,13");

    const axis = d3.axisBottom(x).tickValues(xTicks[c]).tickSize(10).tickPadding(12)
      .tickFormat((d, i) => r === panelGrid.length - 1 ? xTickLabels[c][i] : "");
    const ax = g.append("g").attr("transform", `translate(0,${ph})`).call(axis);
    ax.select(".domain").remove();
    ax.selectAll(".tick line").attr("stroke", "#000").attr("stroke-width", 2);
    ax.selectAll(".tick text").attr("font-size", 84).attr("fill", "#000")
      .attr("font-family", "DejaVu Sans, sans-serif");

    g.append("rect").attr("width", pw).attr("height", ph)
      .attr("fill", "none").attr("stroke", "#000").attr("stroke-width", 2.5);
  });
});

// legend
const lg = svg.append("g");
lg.append("rect").attr("x", 795).attr("y", 2397).attr("width", 2112).attr("height", 268)
  .attr("rx", 10).attr("fill", "#fff").attr("stroke", "#d0d0d0").attr("stroke-width", 2.5);
const legCols = [826, 1572, 2373], legTextX = [1061, 1810, 2610], legRowY = [2433, 2558];
const legendItems = seriesNames.map((n, i) => ({ name: n, color: colors[i], type: "patch" }));
legendItems.push({ name: "True", color: "#ff0000", type: "dash" });
legendItems.forEach((it, i) => {
  const col = Math.floor(i / 2), row = i % 2;
  const px = legCols[col], py = legRowY[row];
  if (it.type === "patch") {
    lg.append("rect").attr("x", px).attr("y", py).attr("width", 168).attr("height", 61).attr("fill", it.color);
  } else {
    lg.append("line").attr("x1", px).attr("x2", px + 168).attr("y1", py + 31).attr("y2", py + 31)
      .attr("stroke", it.color).attr("stroke-width", 8).attr("stroke-dasharray", "30,13");
  }
  const t = lg.append("text").attr("x", legTextX[col]).attr("y", py + 59).attr("font-size", 84);
  if (it.type === "patch") t.text(it.name);
  else { t.append("tspan").text("True "); t.append("tspan").attr("font-style", "italic").text("θ"); }
});
</script></body></html>
